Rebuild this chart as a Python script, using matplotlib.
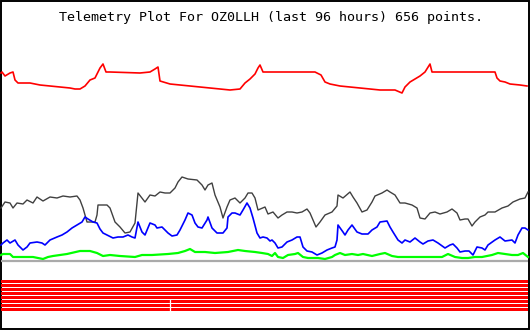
import matplotlib
matplotlib.use("Agg")
import matplotlib.pyplot as plt
from matplotlib.patches import Rectangle

title = "Telemetry Plot For OZ0LLH (last 96 hours) 656 points."

# Series (x position, y position in plot units; y grows downward)
red_x = [1, 2, 5, 10, 13, 15, 18, 30, 40, 50, 60, 70, 75, 80, 85, 90, 95, 100, 103, 106,
         110, 140, 150, 155, 158, 160, 170, 180, 190, 200, 210, 220, 230, 240, 245, 250,
         255, 258, 260, 263, 265, 282, 315, 321, 325, 330, 340, 350, 360, 370, 380, 395,
         402, 405, 410, 415, 420, 425, 430, 432, 440, 490, 495, 497, 500, 505, 510, 520, 527]
red_y = [73, 72, 76, 73, 72, 80, 83, 83, 85, 86, 87, 88, 89, 89, 86, 80, 78, 68, 64, 72,
         72, 73, 72, 69, 67, 81, 84, 85, 86, 87, 88, 89, 90, 89, 83, 79,
         74, 68, 65, 72, 72, 72, 72, 75, 82, 84, 86, 87, 88, 89, 90, 90,
         93, 87, 82, 79, 76, 72, 64, 72, 72, 72, 72, 78, 81, 82, 84, 85, 86]

black_x = [1, 5, 10, 13, 17, 23, 27, 33, 37, 43, 50, 57, 63, 70, 77, 80, 83, 87, 95, 97,
           98, 107, 110, 115, 120, 125, 130, 135, 138, 145, 150, 155, 160, 165, 170, 175,
           178, 182, 188, 197, 202, 205, 208, 212, 215, 220, 223, 227, 230, 235, 240, 245,
           248, 252, 255, 258, 265, 268, 273, 278, 282, 287, 292, 297, 302, 307, 310, 313,
           316, 320, 325, 332, 337, 338, 343, 350, 353, 357, 362, 367, 372, 375, 382, 387,
           390, 395, 400, 405, 412, 417, 420, 425, 430, 435, 440, 447, 452, 457, 460, 465,
           468, 472, 475, 480, 485, 488, 495, 502, 508, 513, 520, 525, 528]
black_y = [208, 202, 203, 208, 203, 204, 200, 203, 197, 201, 197, 198, 196, 197, 196, 200,
           208, 222, 222, 215, 205, 205, 208, 222, 227, 233, 232, 223, 193, 202, 195, 196,
           192, 193, 193, 188, 182, 177, 179, 180, 185, 190, 185, 183, 195, 207, 218, 207,
           200, 198, 203, 198, 193, 193, 198, 210, 207, 214, 212, 218, 215, 212, 212, 213,
           212, 209, 213, 220, 227, 222, 215, 212, 206, 195, 198, 192, 197, 203, 212, 210,
           202, 196, 193, 190, 192, 195, 203, 203, 205, 208, 218, 219, 213, 212, 214, 212,
           209, 213, 220, 219, 219, 226, 222, 217, 215, 212, 212, 208, 206, 202, 199, 198, 192]

blue_x = [1, 3, 7, 10, 15, 18, 23, 27, 30, 37, 42, 45, 50, 57, 62, 67, 72, 77, 82, 85, 88,
          93, 97, 100, 103, 107, 113, 118, 123, 128, 132, 135, 138, 142, 145, 150, 155, 157,
          162, 168, 172, 177, 180, 185, 188, 192, 195, 198, 202, 207, 208, 212, 217, 223,
          227, 228, 232, 235, 240, 243, 247, 250, 253, 257, 260, 263, 267, 270, 272, 275,
          278, 282, 287, 292, 297, 300, 303, 307, 312, 317, 322, 327, 332, 335, 337, 338,
          343, 345, 348, 352, 357, 362, 368, 372, 377, 380, 387, 390, 393, 398, 402, 405,
          410, 415, 420, 423, 428, 433, 438, 445, 450, 453, 457, 460, 465, 469, 473, 477,
          482, 485, 488, 495, 500, 505, 512, 515, 518, 522, 525, 528]
blue_y = [245, 243, 240, 243, 240, 245, 250, 247, 243, 242, 243, 245, 240, 237, 235, 232,
          228, 225, 222, 217, 219, 222, 223, 229, 233, 235, 238, 237, 237, 235, 237, 238,
          222, 232, 235, 223, 225, 228, 227, 233, 236, 235, 230, 220, 213, 215, 223, 227,
          228, 220, 217, 228, 233, 233, 228, 217, 213, 213, 215, 210, 203, 208, 218, 233,
          238, 237, 238, 241, 240, 243, 248, 247, 242, 240, 237, 237, 247, 251, 252, 255,
          253, 250, 248, 247, 240, 225, 232, 235, 230, 225, 232, 234, 234, 230, 227, 222,
          221, 227, 232, 240, 243, 240, 242, 238, 242, 244, 241, 240, 243, 248, 245, 244,
          248, 252, 251, 251, 255, 247, 248, 250, 245, 240, 237, 241, 240, 243, 235, 228,
          228, 230]

green_x = [1, 3, 10, 13, 20, 33, 43, 48, 53, 67, 80, 90, 97, 103, 110, 120, 135, 142, 152,
           168, 178, 185, 190, 195, 205, 215, 228, 238, 245, 255, 262, 268, 272, 275, 278,
           283, 288, 295, 298, 303, 308, 318, 325, 332, 335, 340, 345, 352, 358, 363, 372,
           380, 385, 392, 398, 412, 425, 432, 442, 448, 455, 462, 468, 475, 482, 492, 498,
           512, 518, 523, 528]
green_y = [255, 254, 254, 257, 257, 257, 259, 257, 256, 254, 251, 251, 253, 256, 255, 256,
           257, 255, 255, 254, 253, 251, 249, 252, 252, 253, 252, 250, 251, 252, 253, 254,
           256, 253, 257, 258, 255, 254, 253, 257, 258, 258, 259, 257, 255, 253, 255, 254,
           255, 254, 256, 254, 253, 256, 257, 257, 257, 257, 257, 254, 257, 258, 258, 257,
           257, 255, 253, 255, 255, 253, 257]

baseline_y = 260.5
lanes = [0, 1, 2, 3, 4, 5, 6, 7]
lane_top = 280
lane_pitch = 4
lane_height = 3
marker_x = 170

fig = plt.figure(figsize=(5.3, 3.3), dpi=100)
ax = fig.add_axes([0, 0, 1, 1])
ax.set_xlim(0, 530)
ax.set_ylim(330, 0)
ax.axis("off")

ax.add_patch(Rectangle((0.7, 0.7), 527.8, 327.8, fill=False, edgecolor="black", linewidth=1.4))

ax.text(271, 17, title, ha="center", va="center", family="DejaVu Sans Mono",
        fontsize=9.6, color="black")

ax.hlines(baseline_y, 1, 528, color="#aaaaaa", linewidth=1.6)

ax.plot(red_x, red_y, color="#ff0000", linewidth=1.2)
ax.plot(black_x, black_y, color="#404040", linewidth=1.0)
ax.plot(blue_x, blue_y, color="#0000ff", linewidth=1.2)
ax.plot(green_x, green_y, color="#00ff00", linewidth=1.6)

for i in lanes:
    ax.add_patch(Rectangle((1, lane_top + i * lane_pitch), 527, lane_height,
                           facecolor="#ff0000", edgecolor="none"))
ax.vlines(marker_x, lane_top + 5 * lane_pitch - 1, lane_top + 8 * lane_pitch - 1,
          color="white", linewidth=0.9)

fig.savefig("out.png", dpi=100)
